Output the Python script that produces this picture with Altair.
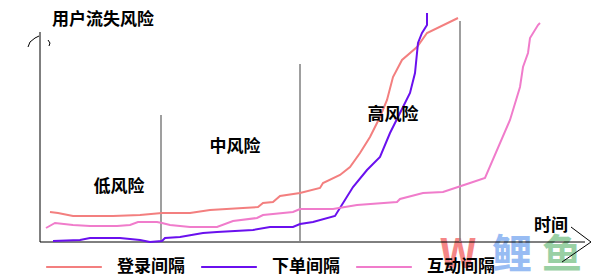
import altair as alt
import pandas as pd

# time / risk readings (time 0 = y-axis, risk 0 = x-axis)
login_t = [10, 18, 33, 73, 100, 122, 150, 170, 203, 218, 223, 233, 240, 260, 280, 283, 300, 310, 320, 330, 340, 347, 353, 362, 377, 387, 418]
login_r = [30, 29, 26, 26, 27, 29, 29, 32, 34, 35, 39, 40, 46, 49, 54, 59, 67, 75, 89, 105, 125, 142, 165, 182, 195, 209, 224]

order_t = [13, 40, 50, 80, 100, 110, 122, 125, 140, 163, 177, 213, 230, 253, 260, 273, 295, 313, 327, 340, 350, 360, 370, 375, 378, 382, 387, 387]
order_r = [1, 2, 4, 4, 2, 0, 1, 4, 5, 9, 10, 12, 15, 15, 18, 20, 26, 55, 72, 85, 109, 129, 149, 169, 199, 209, 217, 229]

inter_t = [6, 15, 33, 50, 77, 90, 98, 117, 122, 130, 150, 177, 193, 217, 223, 253, 260, 293, 317, 357, 360, 383, 403, 430, 445, 470, 480, 483, 488, 490, 498, 500]
inter_r = [14, 19, 17, 16, 16, 17, 20, 20, 19, 17, 15, 15, 21, 24, 27, 30, 33, 33, 37, 40, 43, 49, 50, 59, 64, 122, 155, 175, 189, 204, 217, 219]

series_names = ["登录间隔", "下单间隔", "互动间隔"]
series_colors = ["#F37F7F", "#6A10EE", "#F07CCB"]

# stage dividers
div_t = [121, 260, 420]
div_top = [127, 178, 221]

stage_labels = ["低风险", "中风险", "高风险"]
stage_t = [79, 195, 353]
stage_r = [55, 95, 127]

# axes extents
axis_t_max = 545
axis_r_max = 210

# watermark
wm_txt = ["W", "鲤", "鱼"]
wm_t = [418, 472, 522]
wm_r = [-14, -14, -14]
wm_col = ["#F47A7A", "#8DB5F2", "#8ECB9B"]

rows = []
for name, ts, rs in zip(series_names, [login_t, order_t, inter_t], [login_r, order_r, inter_r]):
    for i, (t, r) in enumerate(zip(ts, rs)):
        rows.append({"series": name, "t": t, "r": r, "i": i})
df = pd.DataFrame(rows)

X = alt.Scale(domain=[-40, 568], nice=False, zero=False)
Y = alt.Scale(domain=[-38, 242], nice=False, zero=False)
x_enc = lambda f="t": alt.X(f"{f}:Q", scale=X, axis=None)
y_enc = lambda f="r": alt.Y(f"{f}:Q", scale=Y, axis=None)

font = "Noto Sans CJK SC"
fs = 17

wm_layers = []
for txt, t, r, c in zip(wm_txt, wm_t, wm_r, wm_col):
    d = pd.DataFrame({"t": [t], "r": [r], "txt": [txt]})
    wm_layers.append(
        alt.Chart(d).mark_text(fontSize=40, fontWeight="bold", font=font, color=c,
                               baseline="middle", opacity=0.9).encode(
            x=x_enc(), y=y_enc(), text="txt:N")
    )

axes_df = pd.DataFrame({"t": [0, 0], "r": [0, 0], "t2": [0, axis_t_max], "r2": [axis_r_max, 0]})
axes = alt.Chart(axes_df).mark_rule(color="black", strokeWidth=1).encode(
    x=x_enc(), y=y_enc(), x2="t2:Q", y2="r2:Q"
)

# hand-drawn arrow strokes
arrows_df = pd.DataFrame({
    "g": [0, 0, 0, 0, 1, 1, 1, 2, 2, 2],
    "i": [0, 1, 2, 3, 0, 1, 2, 0, 1, 2],
    "t": [-12, -10, -5, -1, 8, 10, 9, 531, 551, 522],
    "r": [195, 200, 204, 206, 202, 199, 196, 15, 0, -20],
})
arrows = alt.Chart(arrows_df).mark_line(color="black", strokeWidth=1).encode(
    x=x_enc(), y=y_enc(), detail="g:N", order="i:Q"
)

div_df = pd.DataFrame({"t": div_t, "top": div_top, "b": [0, 0, 0]})
dividers = alt.Chart(div_df).mark_rule(color="#7F7F7F", strokeWidth=1.5).encode(
    x=x_enc(), y=alt.Y("b:Q", scale=Y, axis=None), y2="top:Q"
)

lines = alt.Chart(df).mark_line(strokeWidth=2).encode(
    x=x_enc(), y=y_enc(), order="i:Q",
    color=alt.Color("series:N", sort=series_names,
                    scale=alt.Scale(domain=series_names, range=series_colors),
                    legend=alt.Legend(title=None, orient="none", legendX=45, legendY=238,
                                      direction="horizontal", symbolType="stroke", symbolSize=3100,
                                      symbolStrokeWidth=2, labelFontSize=fs, labelFont=font,
                                      labelFontWeight="bold", labelColor="black", labelOffset=14,
                                      columnPadding=12, padding=0)),
)

stage_df = pd.DataFrame({"t": stage_t, "r": stage_r, "txt": stage_labels})
stages = alt.Chart(stage_df).mark_text(fontSize=fs, fontWeight="bold", font=font, color="black").encode(
    x=x_enc(), y=y_enc(), text="txt:N"
)

titles_df = pd.DataFrame({"t": [63, 511], "r": [222, 16], "txt": ["用户流失风险", "时间"]})
titles = alt.Chart(titles_df).mark_text(fontSize=fs, fontWeight="bold", font=font, color="black").encode(
    x=x_enc(), y=y_enc(), text="txt:N"
)

chart = alt.layer(*wm_layers, axes, arrows, dividers, lines, stages, titles).properties(
    width=608, height=280, padding=0, autosize=alt.AutoSizeParams(type="none"),
    background="white"
).configure_view(stroke=None)

chart.save("out.html", embed_options={"renderer": "svg", "actions": False})
